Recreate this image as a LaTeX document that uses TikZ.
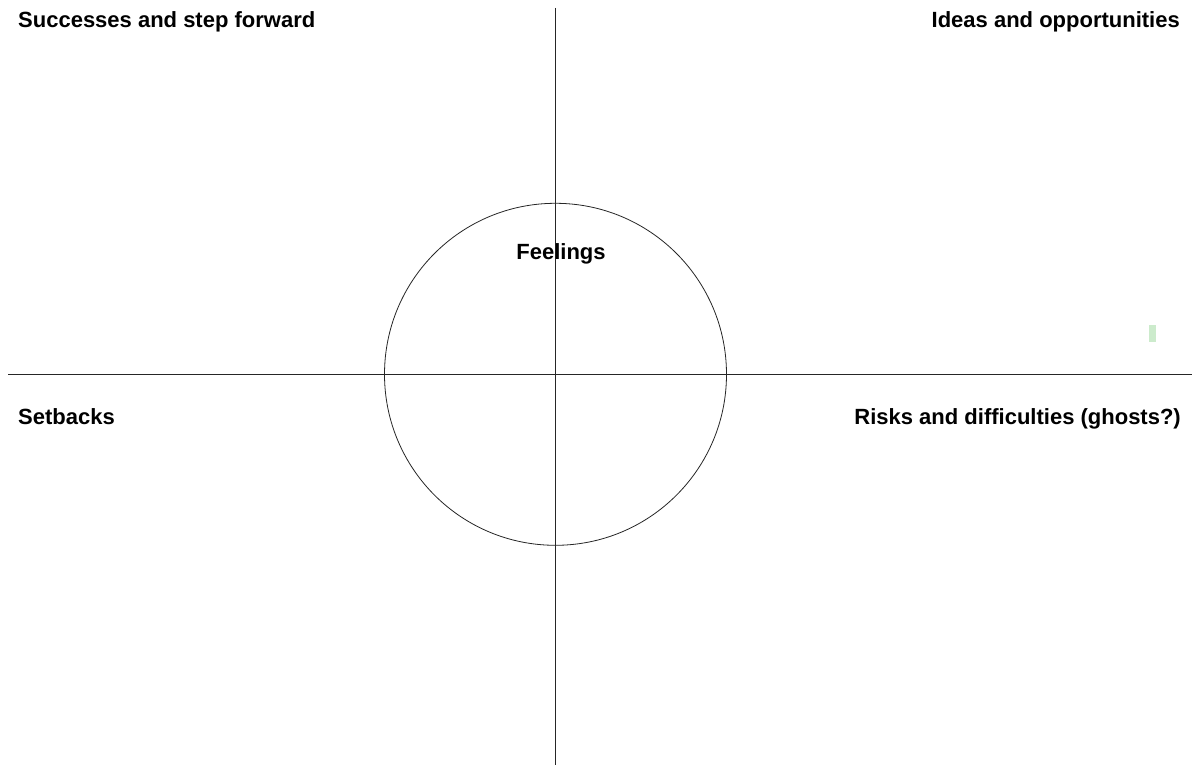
\documentclass[tikz,border=0pt]{standalone}
\usepackage{fontspec}
\setmainfont{Liberation Sans}
\begin{document}
\begin{tikzpicture}[x=1pt,y=-1pt,
  axis/.style={draw=black!85,line width=1pt},
  lbl/.style={font=\fontsize{22}{26}\selectfont\bfseries,inner sep=0pt}]
\useasboundingbox[fill=white] (0,0) rectangle (1192,765);
% quadrant axes
\coordinate (top) at (555.5,8);
\coordinate (bottom) at (555.5,765);
\coordinate (left) at (8,374.3);
\coordinate (right) at (1192,374.3);
\draw[axis] (top) -- (bottom);
\draw[axis] (left) -- (right);
% central circle
\node[circle,draw=black!85,line width=0.8pt,minimum size=342pt,inner sep=0pt] (circ) at (555.5,374.3) {};
% quadrant labels
\node[lbl,anchor=west] (succ) at (18,22) {Successes and step forward};
\node[lbl,anchor=east] (ideas) at (1180,22) {Ideas and opportunities};
\node[lbl,anchor=west] (setb) at (18,417) {Setbacks};
\node[lbl,anchor=east] (risk) at (1181,419) {Risks and difficulties (ghosts?)};
\node[lbl] (feel) at (561,254) {Feelings};
% small marker
\fill[green!60!black!20] (1149,325) rectangle (1156,342);
\end{tikzpicture}
\end{document}
